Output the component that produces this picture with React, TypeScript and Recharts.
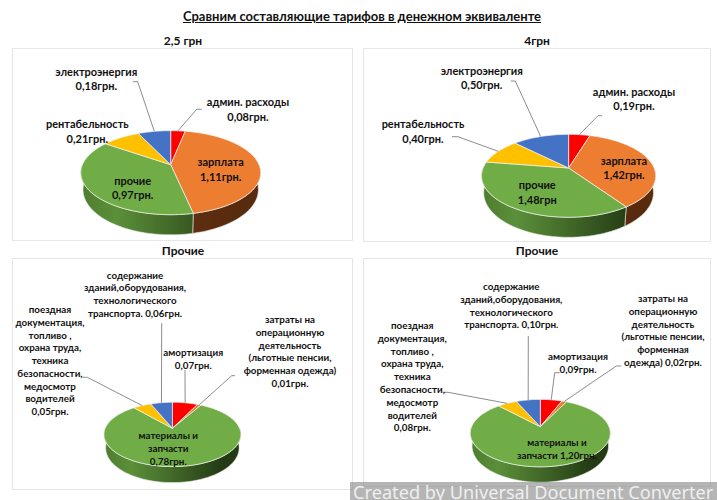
import React from 'react';
import { Pie, PieChart } from 'recharts';

const RED = '#ff0000';
const ORANGE = '#ed7d31';
const GREEN = '#70ad47';
const YELLOW = '#ffc000';
const BLUE = '#4472c4';

const mainColors = [RED, ORANGE, GREEN, YELLOW, BLUE];
const mainCategories = ['админ. расходы', 'зарплата', 'прочие', 'рентабельность', 'электроэнергия'];
const otherCategories = ['амортизация', 'затраты на операционную деятельность', 'материалы и запчасти', 'поездная документация', 'содержание зданий'];

const valuesTariff25 = [0.08, 1.11, 0.97, 0.21, 0.18];
const valuesTariff4 = [0.19, 1.42, 1.48, 0.4, 0.5];
const valuesOther25 = [0.07, 0.01, 0.78, 0.05, 0.06];
const valuesOther4 = [0.09, 0.02, 1.2, 0.08, 0.1];

const textTariff25 = [
  ['админ. расходы', '0,08грн.'],
  ['зарплата', '1,11грн.'],
  ['прочие', '0,97грн.'],
  ['рентабельность', '0,21грн.'],
  ['электроэнергия', '0,18грн.'],
];
const textTariff4 = [
  ['админ. расходы', '0,19грн.'],
  ['зарплата', '1,42грн.'],
  ['прочие', '1,48грн'],
  ['рентабельность', '0,40грн.'],
  ['электроэнергия', '0,50грн.'],
];
const textOther25 = [
  ['амортизация', '0,07грн.'],
  ['затраты на', 'операционную', 'деятельность', '(льготные пенсии,', 'форменная одежда)', '0,01грн.'],
  ['материалы и', 'запчасти', '0,78грн.'],
  ['поездная', 'документация,', 'топливо ,', 'охрана труда,', 'техника', 'безопасности,', 'медосмотр', 'водителей', '0,05грн.'],
  ['содержание', 'зданий,оборудования,', 'технологического', 'транспорта. 0,06грн.'],
];
const textOther4 = [
  ['амортизация', '0,09грн.'],
  ['затраты на', 'операционную', 'деятельность', '(льготные пенсии,', 'форменная', 'одежда) 0,02грн.'],
  ['материалы и', 'запчасти 1,20грн.'],
  ['поездная', 'документация,', 'топливо ,', 'охрана труда,', 'техника', 'безопасности,', 'медосмотр', 'водителей', '0,08грн.'],
  ['содержание', 'зданий,оборудования,', 'технологического', 'транспорта. 0,10грн.'],
];

// label placement: [centre x, first line y], then the leader's bend points
const placeTariff25 = [
  { at: [248, 101.7], leader: [[196.7, 109.3], [201.7, 109.3]] },
  { at: [220.7, 161.7] },
  { at: [132.7, 180] },
  { at: [87.3, 123.7] },
  { at: [96.3, 71], leader: [[137.7, 81.7], [132.7, 81.7]] },
];
const placeTariff4 = [
  { at: [634, 91.3], leader: [[598, 115.7], [602, 115.7]] },
  { at: [624, 160.3] },
  { at: [537.3, 184.7] },
  { at: [423, 123.7], leader: [[458, 136.7], [452, 136.7]] },
  { at: [481.7, 70.3], leader: [[515.3, 81], [510.7, 81]] },
];
const placeOther25 = [
  { at: [193.3, 352], leader: [[185, 370]] },
  { at: [290, 319], leader: [[231.7, 375.7], [235, 375.7]] },
  { at: [168.3, 435] },
  { at: [50, 309], leader: [[87.3, 377.3], [82.7, 377.3]] },
  { at: [135, 274.7], leader: [[161.7, 323.3]] },
];
const placeOther4 = [
  { at: [578, 356.3], leader: [[554.7, 372.7], [559.7, 372.7]] },
  { at: [663, 298], leader: [[616.3, 366], [621.3, 366]] },
  { at: [557, 442] },
  { at: [412.3, 325], leader: [[448, 392.3], [444, 392.3]] },
  { at: [511.3, 286], leader: [[528.3, 336]] },
];

const FONT = 'Lato, "Open Sans", sans-serif';

const panels = [
  { id: 'a', x: 12, y: 48, w: 341, h: 193, title: '2,5 грн', titleX: 183, titleY: 41, cx: 170.7, cy: 164.7, r: 88.3, ry: 40.5, k: 0.19, depth: 16.3, values: valuesTariff25, names: mainCategories, text: textTariff25, place: placeTariff25, lineH: 14.5, fontSize: 11 },
  { id: 'b', x: 363, y: 48, w: 348, h: 194, title: '4грн', titleX: 537, titleY: 41, cx: 568.6, cy: 168, r: 85.5, ry: 40, k: 0.188, depth: 16.3, values: valuesTariff4, names: mainCategories, text: textTariff4, place: placeTariff4, lineH: 14.5, fontSize: 11 },
  { id: 'c', x: 12, y: 258, w: 341, h: 232, title: 'Прочие', titleX: 183, titleY: 251, cx: 172.4, cy: 428.3, r: 67.2, ry: 31, k: 0.19, depth: 13, values: valuesOther25, names: otherCategories, text: textOther25, place: placeOther25, lineH: 12.75, fontSize: 9.8 },
  { id: 'd', x: 363, y: 258, w: 348, h: 229, title: 'Прочие', titleX: 537, titleY: 251, cx: 540.3, cy: 426.7, r: 68.7, ry: 32.5, k: 0.19, depth: 12.5, values: valuesOther4, names: otherCategories, text: textOther4, place: placeOther4, lineH: 12.8, fontSize: 9.8 },
];

type Panel = (typeof panels)[number];

// the source is a tilted 3D pie: a circle seen in perspective
const project = (p: Panel, deg: number) => {
  const a = (deg * Math.PI) / 180;
  const x = Math.cos(a);
  const y = -Math.sin(a);
  const w = 1 - p.k * y;
  return { X: (p.r * x) / w, Y: (p.ry * y) / w, w, y };
};

const wallStops = (fill: string) =>
  fill === GREEN
    ? [['0%', '#4f7d30'], ['22%', '#5b8f39'], ['100%', '#233a14']]
    : [['0%', '#6d3917'], ['100%', '#582a0e']];

const TiltedSlice = ({ panel, props }: { panel: Panel; props: any }) => {
  const { startAngle, endAngle, fill, index } = props;
  const { cx, cy } = panel;
  const steps = Math.max(2, Math.ceil(Math.abs(endAngle - startAngle) / 2));
  const samples = Array.from({ length: steps + 1 }, (_, i) =>
    project(panel, startAngle + ((endAngle - startAngle) * i) / steps),
  );
  const top = samples.map((s) => `L${cx + s.X},${cy + s.Y}`).join('');
  const front = samples.filter((s) => s.y >= 0);
  const gradId = `wall-${panel.id}-${index}`;
  const wall =
    front.length > 1
      ? front.map((s, i) => `${i ? 'L' : 'M'}${cx + s.X},${cy + s.Y}`).join('') +
        [...front]
          .reverse()
          .map((s) => `L${cx + s.X * 0.975},${cy + s.Y + panel.depth / s.w}`)
          .join('') +
        'Z'
      : null;
  return (
    <g>
      {wall && (
        <>
          <defs>
            <linearGradient id={gradId} gradientUnits="userSpaceOnUse" x1={cx - panel.r} x2={cx + panel.r * 0.75} y1="0" y2="0">
              {wallStops(fill).map(([offset, color]) => (
                <stop key={offset} offset={offset} stopColor={color} />
              ))}
            </linearGradient>
          </defs>
          <path d={wall} fill={`url(#${gradId})`} stroke="#e8ede4" strokeWidth={0.6} />
        </>
      )}
      <path d={`M${cx},${cy}${top}Z`} fill={fill} stroke="#f4f4f0" strokeWidth={0.7} strokeLinejoin="round" />
    </g>
  );
};

const SliceLabel = ({ panel, props }: { panel: Panel; props: any }) => {
  const { index, midAngle } = props;
  const place = panel.place[index];
  const lines = panel.text[index];
  const edge = project(panel, midAngle);
  const leader = place.leader
    ? [[panel.cx + edge.X, panel.cy + edge.Y], ...place.leader].map((pt) => pt.join(',')).join(' ')
    : null;
  return (
    <g>
      {leader && <polyline points={leader} fill="none" stroke="#7f7f7f" strokeWidth={0.9} />}
      <text textAnchor="middle" fontFamily={FONT} fontSize={panel.fontSize} fontWeight={700} fill="#111">
        {lines.map((line, i) => (
          <tspan key={i} x={place.at[0]} y={place.at[1] + i * panel.lineH} dominantBaseline="central">
            {line}
          </tspan>
        ))}
      </text>
    </g>
  );
};

const App = () => (
  <div style={{ position: 'absolute', left: 0, top: 0, width: 717, height: 500, overflow: 'hidden', background: '#fff', fontFamily: FONT }}>
    <div style={{ position: 'absolute', left: 0, top: 8, width: 724, textAlign: 'center', fontSize: 13, fontWeight: 700, textDecoration: 'underline', color: '#111' }}>
      Сравним составляющие тарифов в денежном эквиваленте
    </div>
    {panels.map((p) => (
      <React.Fragment key={p.id}>
        <div style={{ position: 'absolute', left: p.x, top: p.y, width: p.w, height: p.h, border: '1px solid #e6e6e6', boxSizing: 'border-box' }} />
        <div style={{ position: 'absolute', left: p.titleX - 60, width: 120, top: p.titleY - 8, textAlign: 'center', fontSize: 12, fontWeight: 700, color: '#111' }}>
          {p.title}
        </div>
      </React.Fragment>
    ))}
    <div style={{ position: 'absolute', left: 0, top: 0 }}>
      <PieChart width={717} height={500} margin={{ top: 0, right: 0, bottom: 0, left: 0 }}>
        {panels.map((p) => (
          <Pie
            key={p.id}
            data={p.names.map((name, i) => ({ name, value: p.values[i], fill: mainColors[i] }))}
            dataKey="value"
            nameKey="name"
            cx={p.cx}
            cy={p.cy}
            outerRadius={p.r}
            startAngle={90}
            endAngle={-270}
            stroke="none"
            isAnimationActive={false}
            shape={(props: any) => <TiltedSlice panel={p} props={props} />}
            label={(props: any) => <SliceLabel panel={p} props={props} />}
            labelLine={false}
          />
        ))}
      </PieChart>
    </div>
    <div style={{ position: 'absolute', left: 350, top: 482, width: 367, height: 18, background: 'rgba(120,120,120,0.55)', overflow: 'hidden' }}>
      <div style={{ position: 'absolute', left: 3, top: -3, whiteSpace: 'nowrap', fontFamily: '"Noto Sans", sans-serif', fontSize: 18.2, lineHeight: '27px', color: 'rgba(255,255,255,0.8)' }}>
        Created by Universal Document Converter
      </div>
    </div>
  </div>
);

export default App;
